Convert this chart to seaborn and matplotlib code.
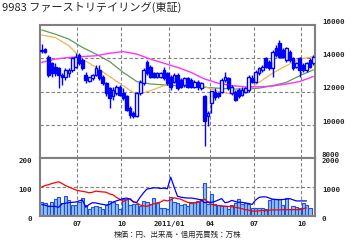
import numpy as np
import pandas as pd
import matplotlib
matplotlib.use("Agg")
import matplotlib.pyplot as plt
import seaborn as sns

# ---------------- data (weekly, index 0..80) ----------------
opens  = [14500,14550,14100,13700,13500,13400,13000,12900,13100,13300,
          13500,14200,13900,13000,12650,12800,13000,13300,12900,12500,
          12200,11700,11900,12300,11900,11700,11000,10700,10550,11900,
          12500,13800,13500,13100,12900,12900,13300,13100,12900,12600,
          13000,12700,12400,12800,12700,12300,12600,12200,11700,10500,
          11300,12000,11900,12000,12700,12800,11900,12000,12100,11800,
          12000,12100,12800,12600,13100,13300,14000,13800,13400,14600,
          14900,14500,13900,14400,14000,13500,14000,13600,13300,13900,
          13700]
highs  = [14850,14600,14200,13800,13700,13500,13100,13400,13400,14100,
          14300,14300,14000,13200,12900,13050,13600,13600,13000,12600,
          12300,12300,12400,12400,12200,11800,11100,10800,12000,12700,
          13400,13900,13600,13200,13200,13200,13500,13200,13000,13100,
          13100,12800,12900,12900,12800,12700,12700,12600,11800,10800,
          12050,12200,12000,12800,13150,12900,12400,12100,12200,12300,
          12300,13000,13000,13300,13500,13600,14100,13900,14500,14800,
          15100,14600,14700,14500,14100,13800,14100,13700,13800,14000,
          14200]
lows   = [14300,14300,12900,12900,12950,12200,12400,12700,12900,13200,
          13400,13600,13300,12500,12550,12700,12950,12700,12400,11700,
          11000,11500,11800,11700,11500,10800,10400,10400,10450,11800,
          12400,13000,12800,12800,12800,12800,12700,12400,12100,12500,
          12100,12200,12300,12200,12200,12200,12100,12100,8700,9900,
          10700,11500,11600,11900,12600,12100,11800,11400,11600,11700,
          11900,12000,12500,12500,13000,13200,13400,13300,12900,14100,
          14000,14000,13800,13800,13300,13400,12900,13200,13200,13400,
          13600]
closes = [14450,14350,13000,13100,13100,13000,12900,13300,13300,14000,
          14100,13700,13400,12700,12850,13000,13400,12800,12500,11900,
          11600,12100,12300,11800,11600,10900,10600,10500,11900,12600,
          13300,13100,12900,12900,13100,13100,12800,12500,12300,13000,
          12200,12300,12800,12300,12300,12600,12300,12500,10200,10700,
          12000,11650,11700,12700,12900,12200,12300,11500,11700,12100,
          12200,12900,12600,13200,13400,13500,13500,13400,14400,14200,
          14100,14100,14600,13900,13400,13700,13300,13300,13700,13500,
          14100]

# moving averages read every 4 weeks
ma_weeks = [0,4,8,12,16,20,24,28,32,36,40,44,48,52,56,60,64,68,72,76,80]
ma13 = [15400,15250,14750,13950,13450,12900,12350,11800,12050,12350,12700,
        12700,12300,12000,11850,11950,12550,13100,13550,13950,14100]
ma26 = [15700,15450,15150,14650,14250,13800,13150,12600,12450,12400,12350,
        12350,12250,12200,12150,12150,12200,12350,12550,12950,13300]
ma52 = [13750,13950,14050,14100,14150,14300,14400,14250,13950,13700,13450,
        13150,12750,12500,12350,12280,12280,12330,12450,12600,12900]

volume = [48,44,36,50,60,65,45,70,55,38,37,50,61,38,25,32,33,30,25,37,
          52,48,40,24,57,60,37,40,40,35,52,50,40,63,45,29,29,23,65,50,
          45,37,40,35,46,48,52,60,113,40,75,40,37,35,33,23,37,46,60,40,
          46,40,26,29,29,26,23,54,57,57,60,37,61,24,35,30,26,46,37,26,0]
nan = np.nan
margin_buy = [40,37,34,33,33,30,42,44,46,47,48,52,55,30,40,46,45,42,40,38,
              40,48,52,56,60,62,58,48,47,65,80,93,95,97,97,95,96,94,134,100,
              68,65,63,62,62,60,58,55,46,48,47,50,55,60,46,48,54,50,47,47,
              45,43,40,55,64,66,66,62,58,57,56,57,58,60,56,52,52,52,52,nan,nan]
margin_sell = [100,105,108,112,115,118,112,105,100,95,90,87,85,83,80,82,86,84,83,82,
               76,73,64,58,50,55,60,50,45,38,35,33,38,42,45,48,55,52,55,63,
               60,58,52,47,46,45,47,52,58,48,40,37,36,35,34,33,32,30,28,25,
               22,20,17,17,18,19,18,20,21,21,21,22,22,22,22,22,22,25,28,nan,nan]

tick_weeks = [11, 24, 38, 50, 63, 77]
tick_labels = ['07', '10', '2011/01', '04', '07', '10']
price_ticks = [8000, 10000, 12000, 14000, 16000]
left_vol_ticks = [0, 100, 200]
right_vol_ticks = [0, 1000, 2000]

title = "9983 ファーストリテイリング(東証)"
footer = "株価：円、出来高・信用売買残：万株"

# ---------------- style ----------------
sns.set_style("white")
plt.rcParams['font.family'] = ['Noto Sans CJK JP', 'DejaVu Sans']

weeks = np.arange(len(closes))
df = pd.DataFrame({'w': weeks, 'o': opens, 'h': highs, 'l': lows, 'c': closes,
                   'vol': volume, 'buy': margin_buy, 'sell': margin_sell})
ma_df = pd.DataFrame({'w': ma_weeks, 'ma13': ma13, 'ma26': ma26, 'ma52': ma52})

fig = plt.figure(figsize=(3.55, 2.4), dpi=100)
ax = fig.add_axes([40/355, 82/240, 275/355, 133/240])
ax2 = fig.add_axes([40/355, 24/240, 275/355, 58/240])

GRID = '#808080'
BLUE = '#0000ff'
xlim = (-0.5, len(closes) - 0.5)
TICKFONT = dict(family='DejaVu Sans Mono', fontsize=5.4, fontweight='bold')

def frame(a):
    for s in a.spines.values():
        s.set_color(GRID)
        s.set_linewidth(1.5)
    for w in tick_weeks:
        a.axvline(w - 0.5, color=GRID, lw=0.8, ls=(0, (3, 2)), zorder=0.5)
    a.set_xlim(*xlim)
    a.set_xticks([])
    a.tick_params(length=0)

# ---------- main price panel ----------
frame(ax)
for p in price_ticks[1:-1]:
    ax.axhline(p, color=GRID, lw=0.8, ls=(0, (3, 2)), zorder=0.5)
sns.lineplot(data=ma_df, x='w', y='ma26', ax=ax, color='#5f9a5a', lw=0.9, zorder=1)
sns.lineplot(data=ma_df, x='w', y='ma13', ax=ax, color='#f0b456', lw=0.9, zorder=1)
sns.lineplot(data=ma_df, x='w', y='ma52', ax=ax, color='#ff30ff', lw=1.0, zorder=1)

ax.vlines(df['w'], df['l'], df['h'], color=BLUE, lw=1.0, zorder=2)
up = df['c'] >= df['o']
bottoms = np.minimum(df['o'], df['c'])
heights = np.maximum(np.abs(df['c'] - df['o']), 60)
ax.bar(df['w'][up], heights[up], bottom=bottoms[up], width=0.8,
       facecolor='white', edgecolor=BLUE, lw=1.0, zorder=3)
ax.bar(df['w'][~up], heights[~up], bottom=bottoms[~up], width=0.8,
       facecolor=BLUE, edgecolor=BLUE, lw=1.0, zorder=3)

ax.set_ylim(price_ticks[0], price_ticks[-1])
ax.set_xlabel('')
ax.set_ylabel('')
ax.yaxis.tick_right()
ax.set_yticks(price_ticks)
ax.set_yticklabels([str(t) for t in price_ticks], va='bottom', **TICKFONT)
ax.tick_params(axis='y', pad=5, length=0)
ax.set_xlim(*xlim)

# ---------- volume / margin panel ----------
frame(ax2)
ax2.axhline(100, color=GRID, lw=0.8, ls=(0, (3, 2)), zorder=0.5)
ax2.bar(df['w'], df['vol'], width=0.95, facecolor='#8cc2f2', edgecolor='#2a50d0',
        lw=0.8, zorder=1)
sns.lineplot(data=df, x='w', y='sell', ax=ax2, color='#ff0000', lw=0.9, zorder=3)
sns.lineplot(data=df, x='w', y='buy', ax=ax2, color=BLUE, lw=0.9, zorder=3)
ax2.set_ylim(left_vol_ticks[0], left_vol_ticks[-1])
ax2.set_xlim(*xlim)
ax2.set_xlabel('')
ax2.set_ylabel('')
ax2.set_yticks(left_vol_ticks)
ax2.set_yticklabels([str(t) for t in left_vol_ticks], va='top', **TICKFONT)
ax2.tick_params(axis='y', pad=6, length=0)
ax2.set_xticks([w - 0.5 for w in tick_weeks])
ax2.set_xticklabels(tick_labels, **TICKFONT)
ax2.tick_params(axis='x', pad=3.5, length=0)

ax3 = ax2.twinx()
ax3.set_ylim(right_vol_ticks[0], right_vol_ticks[-1])
ax3.set_yticks(right_vol_ticks)
ax3.set_yticklabels([str(t) for t in right_vol_ticks], va='top', **TICKFONT)
ax3.tick_params(axis='y', pad=5, length=0)
for s in ax3.spines.values():
    s.set_visible(False)

# ---------- texts ----------
fig.text(2/355, 1 - 7/240, title, fontsize=8, va='center', ha='left')
fig.text(178/355, 1 - 235/240, footer, fontsize=5.4, va='center', ha='center')

fig.savefig('out.png', dpi=100)
